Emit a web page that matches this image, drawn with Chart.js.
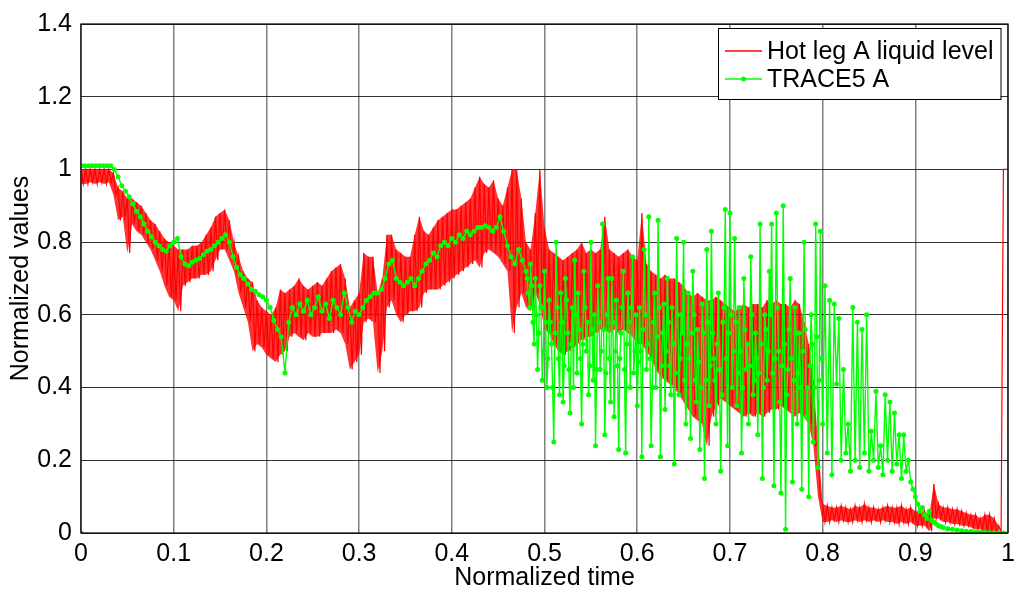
<!DOCTYPE html>
<html>
<head>
<meta charset="utf-8">
<script src="https://cdn.jsdelivr.net/npm/chart.js@4.4.0/dist/chart.umd.min.js"></script>
<style>
  html, body { margin: 0; padding: 0; background: #fff; }
  #wrap { width: 1021px; height: 596px; }
</style>
</head>
<body>
<div id="wrap"><canvas id="grafico" width="1021" height="596"></canvas></div>
<script>
// Nível de líquido na perna quente A (medido) x TRACE5 (calculado)
const rotuloVermelho = 'Hot leg A liquid level';
const rotuloVerde = 'TRACE5 A';

// vermelho: envelope lido a cada 0.005 de tempo (máximo / mínimo do ruído)
const vermelhoMax = [
  1.00, 1.00, 1.00, 1.00, 1.00, 1.00, 1.00, 0.99, 0.95, 0.94,
  0.92, 0.92, 0.91, 0.90, 0.88, 0.86, 0.85, 0.83, 0.81, 0.80,
  0.79, 0.78, 0.78, 0.78, 0.79, 0.79, 0.80, 0.82, 0.84, 0.87,
  0.88, 0.89, 0.86, 0.80, 0.76, 0.72, 0.70, 0.69, 0.64, 0.62,
  0.61, 0.60, 0.62, 0.67, 0.66, 0.67, 0.68, 0.70, 0.68, 0.67,
  0.68, 0.69, 0.68, 0.70, 0.72, 0.73, 0.74, 0.70, 0.62, 0.64,
  0.66, 0.77, 0.76, 0.76, 0.66, 0.70, 0.82, 0.82, 0.78, 0.77,
  0.76, 0.76, 0.82, 0.87, 0.83, 0.82, 0.84, 0.86, 0.87, 0.88,
  0.89, 0.89, 0.90, 0.91, 0.92, 0.95, 0.98, 0.96, 0.95, 0.97,
  0.92, 0.90, 0.95, 1.00, 1.00, 0.92, 0.80, 0.78, 0.88, 1.00,
  0.84, 0.78, 0.77, 0.76, 0.75, 0.76, 0.77, 0.78, 0.80, 0.77,
  0.78, 0.77, 0.78, 0.87, 0.78, 0.77, 0.76, 0.77, 0.78, 0.76,
  0.75, 0.88, 0.74, 0.72, 0.71, 0.70, 0.71, 0.70, 0.70, 0.69,
  0.68, 0.66, 0.65, 0.66, 0.65, 0.64, 0.64, 0.65, 0.64, 0.63,
  0.62, 0.61, 0.62, 0.63, 0.62, 0.63, 0.63, 0.62, 0.64, 0.63,
  0.64, 0.63, 0.63, 0.62, 0.64, 0.63, 0.58, 0.52, 0.42, 0.25,
  0.08, 0.075, 0.07, 0.07, 0.075, 0.07, 0.065, 0.075, 0.07, 0.08,
  0.07, 0.07, 0.065, 0.07, 0.075, 0.07, 0.07, 0.075, 0.065, 0.07,
  0.06, 0.06, 0.06, 0.05, 0.135, 0.08, 0.07, 0.07, 0.065, 0.065,
  0.06, 0.055, 0.05, 0.05, 0.04, 0.05, 0.05, 0.04, 0.02, 1.00,
  1.00
];
const vermelhoMin = [
  0.96, 0.96, 0.965, 0.96, 0.965, 0.96, 0.965, 0.93, 0.86, 0.87,
  0.77, 0.85, 0.83, 0.82, 0.80, 0.78, 0.75, 0.72, 0.68, 0.65,
  0.64, 0.61, 0.68, 0.69, 0.70, 0.70, 0.71, 0.71, 0.72, 0.75,
  0.78, 0.78, 0.75, 0.72, 0.66, 0.62, 0.58, 0.50, 0.52, 0.51,
  0.49, 0.48, 0.47, 0.49, 0.50, 0.54, 0.55, 0.54, 0.53, 0.55,
  0.54, 0.54, 0.55, 0.55, 0.55, 0.56, 0.55, 0.52, 0.45, 0.47,
  0.49, 0.58, 0.59, 0.58, 0.44, 0.50, 0.62, 0.64, 0.60, 0.58,
  0.60, 0.61, 0.61, 0.62, 0.66, 0.67, 0.67, 0.67, 0.68, 0.69,
  0.70, 0.71, 0.72, 0.73, 0.74, 0.75, 0.73, 0.77, 0.78, 0.77,
  0.76, 0.74, 0.72, 0.55, 0.62, 0.66, 0.62, 0.61, 0.66, 0.63,
  0.56, 0.55, 0.52, 0.50, 0.49, 0.50, 0.51, 0.52, 0.53, 0.54,
  0.54, 0.55, 0.56, 0.56, 0.55, 0.56, 0.55, 0.56, 0.55, 0.54,
  0.52, 0.52, 0.50, 0.48, 0.45, 0.43, 0.42, 0.41, 0.40, 0.38,
  0.36, 0.34, 0.32, 0.31, 0.30, 0.24, 0.32, 0.35, 0.37, 0.36,
  0.35, 0.34, 0.33, 0.32, 0.33, 0.32, 0.33, 0.32, 0.33, 0.34,
  0.34, 0.35, 0.34, 0.33, 0.32, 0.33, 0.32, 0.30, 0.24, 0.10,
  0.03, 0.03, 0.035, 0.03, 0.035, 0.03, 0.03, 0.035, 0.03, 0.035,
  0.03, 0.035, 0.03, 0.035, 0.03, 0.03, 0.025, 0.03, 0.025, 0.03,
  0.02, 0.02, 0.02, 0.005, 0.04, 0.04, 0.03, 0.03, 0.025, 0.025,
  0.02, 0.02, 0.015, 0.01, 0.01, 0.005, 0.005, 0.005, 0.0, 1.00,
  1.00
];

// verde: trecho suave (passo 0.004), oscilante denso (0.00125), oscilante (0.0025), cauda (0.005)
const verdeA = [
  1.01, 1.01, 1.01, 1.01, 1.01, 1.01, 1.01, 1.01, 1.01, 1.00,
  0.98, 0.955, 0.94, 0.925, 0.905, 0.885, 0.87, 0.85, 0.83, 0.815,
  0.80, 0.79, 0.78, 0.775, 0.79, 0.80, 0.81, 0.76, 0.74, 0.735,
  0.745, 0.75, 0.755, 0.765, 0.775, 0.78, 0.79, 0.80, 0.81, 0.82,
  0.80, 0.76, 0.73, 0.71, 0.70, 0.685, 0.67, 0.665, 0.655, 0.65,
  0.64, 0.62, 0.585, 0.56, 0.54, 0.44, 0.58, 0.62, 0.60, 0.63,
  0.61, 0.64, 0.60, 0.62, 0.65, 0.61, 0.63, 0.59, 0.64, 0.62,
  0.60, 0.66, 0.62, 0.58, 0.61, 0.60, 0.62, 0.64, 0.65, 0.66,
  0.66, 0.67, 0.70, 0.74, 0.75, 0.70, 0.69, 0.68, 0.69, 0.70,
  0.68, 0.70, 0.72, 0.74, 0.75, 0.77, 0.76, 0.79, 0.80, 0.79,
  0.81, 0.80, 0.82, 0.81, 0.83, 0.82, 0.83, 0.84, 0.84, 0.845,
  0.84, 0.83, 0.84, 0.87, 0.83, 0.79, 0.76, 0.74, 0.78, 0.75,
  0.72
];
const verdeB = [
  0.70, 0.66, 0.62, 0.74, 0.68, 0.58, 0.52, 0.70, 0.60, 0.45, 0.55, 0.68, 0.62, 0.42, 0.50, 0.72, 0.58, 0.40, 0.48, 0.64,
  0.58, 0.52, 0.40, 0.25, 0.55, 0.80, 0.62, 0.48, 0.38, 0.66, 0.58, 0.36, 0.46, 0.70, 0.64, 0.55, 0.45, 0.33, 0.52, 0.62,
  0.40, 0.75, 0.60, 0.44, 0.66, 0.56, 0.48, 0.30, 0.52, 0.72, 0.62, 0.50, 0.58, 0.38, 0.46, 0.80, 0.56, 0.42, 0.60, 0.24,
  0.45, 0.68, 0.58, 0.45, 0.50, 0.85, 0.56, 0.27, 0.44, 0.60, 0.70, 0.48, 0.36, 0.70, 0.58, 0.32, 0.50, 0.64, 0.46, 0.23,
  0.48, 0.55, 0.62, 0.72, 0.45, 0.22, 0.52, 0.66, 0.58, 0.40, 0.62, 0.76, 0.44, 0.50, 0.60, 0.35, 0.47, 0.62, 0.50, 0.21,
  0.56, 0.78, 0.60, 0.45, 0.52, 0.87, 0.48, 0.24, 0.40, 0.58, 0.66, 0.40, 0.54, 0.86, 0.62, 0.21, 0.46, 0.55, 0.63, 0.34,
  0.50, 0.70, 0.58, 0.46, 0.38, 0.62, 0.52, 0.19, 0.44, 0.81, 0.60, 0.38, 0.48, 0.60, 0.55, 0.80, 0.42, 0.30, 0.52, 0.66,
  0.48, 0.26, 0.55, 0.72, 0.60, 0.42, 0.36, 0.56, 0.47, 0.23, 0.40, 0.63, 0.55, 0.15, 0.42, 0.78, 0.58, 0.35, 0.46, 0.83,
  0.55, 0.48, 0.42, 0.30, 0.52, 0.66, 0.45, 0.17, 0.38, 0.58, 0.62, 0.89, 0.48, 0.24, 0.55, 0.88, 0.60, 0.40, 0.50, 0.81,
  0.58, 0.35, 0.44, 0.62, 0.50, 0.22, 0.40, 0.70, 0.56, 0.45, 0.52, 0.30, 0.46, 0.76, 0.60, 0.38, 0.42, 0.55, 0.48, 0.27,
  0.44, 0.85, 0.52, 0.15, 0.40, 0.60, 0.56, 0.42, 0.50, 0.72, 0.60, 0.85, 0.44, 0.13, 0.48, 0.88, 0.62, 0.50, 0.36, 0.11,
  0.46, 0.90, 0.52, 0.01, 0.38, 0.45, 0.56, 0.70, 0.48, 0.14, 0.42, 0.62, 0.55, 0.30, 0.44, 0.55, 0.40, 0.12, 0.50, 0.80,
  0.56, 0.32, 0.40, 0.10, 0.46, 0.60, 0.52, 0.25, 0.40, 0.85, 0.54, 0.18, 0.42, 0.83, 0.48, 0.30
];
const verdeC = [
  0.68, 0.22,
  0.64, 0.16, 0.63, 0.41, 0.59, 0.20, 0.45, 0.22, 0.30, 0.17,
  0.62, 0.20, 0.58, 0.18, 0.56, 0.22, 0.60, 0.17, 0.28, 0.20,
  0.39, 0.18, 0.24, 0.16, 0.38, 0.20, 0.36, 0.17, 0.33, 0.19,
  0.27, 0.15, 0.27, 0.17, 0.20, 0.14, 0.12, 0.10, 0.08, 0.06,
  0.07, 0.05, 0.04, 0.06, 0.035, 0.03, 0.025, 0.02, 0.018, 0.015
];
const verdeD = [0.012, 0.01, 0.008, 0.006, 0.005, 0.004, 0.003, 0.002, 0.002, 0.001, 0.001, 0.0, 0.0, 0.0];

const ticksX = [0, 0.1, 0.2, 0.3, 0.4, 0.5, 0.6, 0.7, 0.8, 0.9, 1];
const ticksY = [0, 0.2, 0.4, 0.6, 0.8, 1, 1.2, 1.4];

function tempos(inicio, passo, n) {
    return Array.from({ length: n }, (_, i) => +(inicio + i * passo).toFixed(5));
}

const tVermelho = tempos(0, 0.005, vermelhoMax.length);

// o ruído vermelho vira um zigue-zague entre máximo e mínimo
function montarVermelho() {
    const pontos = [];
    tVermelho.forEach((x, i) => {
        pontos.push({ x: x, y: vermelhoMax[i] });
        if (x + 0.0025 <= 1) pontos.push({ x: +(x + 0.0025).toFixed(4), y: vermelhoMin[i] });
    });
    return pontos;
}

function montarFaixa(valores) {
    return tVermelho.map((x, i) => ({ x: x, y: valores[i] }));
}

function montarVerde() {
    const pontos = [{ x: 0, y: 0 }];
    const partes = [
        [tempos(0, 0.004, verdeA.length), verdeA],
        [tempos(0.48125, 0.00125, verdeB.length), verdeB],
        [tempos(0.8025, 0.0025, verdeC.length), verdeC],
        [tempos(0.935, 0.005, verdeD.length), verdeD]
    ];
    partes.forEach(([t, v]) => t.forEach((x, i) => pontos.push({ x: x, y: v[i] })));
    return pontos;
}

const fonte = '"Liberation Sans", Arial, Helvetica, sans-serif';
const tamanho = 25;

const moldura = {
    id: 'moldura',
    afterDatasetsDraw(chart) {
        const { ctx, chartArea: a } = chart;
        ctx.save();
        ctx.strokeStyle = '#000';
        ctx.lineWidth = 1.2;
        ctx.strokeRect(a.left, a.top, a.right - a.left, a.bottom - a.top);
        ctx.restore();
    }
};

// caixa de legenda no estilo do MATLAB, com as cores de cada série
const amostras = [
    { texto: rotuloVermelho, cor: '#ff0000', largura: 1.3, ponto: 0 },
    { texto: rotuloVerde, cor: '#00ff00', largura: 1.4, ponto: 2.5 }
];

const legenda = {
    id: 'legendaCaixa',
    afterDraw(chart) {
        const { ctx, chartArea: a } = chart;
        ctx.save();
        ctx.font = tamanho + 'px ' + fonte;
        const larg = Math.max(...amostras.map(d => ctx.measureText(d.texto).width));
        const w = 49 + larg + 7;
        const h = 71;
        const x = Math.round(a.right - 8 - w);
        const y = a.top + 4;
        ctx.fillStyle = '#fff';
        ctx.fillRect(x, y, w, h);
        ctx.strokeStyle = '#000';
        ctx.lineWidth = 1;
        ctx.strokeRect(x + 0.5, y + 0.5, w, h);
        amostras.forEach((d, i) => {
            const cy = y + 23 + i * 28;
            ctx.strokeStyle = d.cor;
            ctx.lineWidth = d.largura;
            ctx.beginPath();
            ctx.moveTo(x + 7, cy);
            ctx.lineTo(x + 44, cy);
            ctx.stroke();
            if (d.ponto > 0) {
                ctx.fillStyle = d.cor;
                ctx.beginPath();
                ctx.arc(x + 25.5, cy, d.ponto, 0, Math.PI * 2);
                ctx.fill();
            }
            ctx.fillStyle = '#000';
            ctx.textBaseline = 'middle';
            ctx.fillText(d.texto, x + 49, cy + 1);
        });
        ctx.restore();
    }
};

const rotuloNum = v => String(Number(Number(v).toFixed(1)));

new Chart(document.getElementById('grafico').getContext('2d'), {
    type: 'scatter',
    data: {
        datasets: [{
            label: rotuloVermelho,
            data: montarVermelho(),
            showLine: true,
            borderColor: '#ff0000',
            borderWidth: 1.2,
            pointRadius: 0,
            order: 1
        }, {
            label: rotuloVerde,
            data: montarVerde(),
            showLine: true,
            borderColor: '#00ff00',
            borderWidth: 1.4,
            pointRadius: 2.5,
            pointBorderWidth: 0,
            pointBackgroundColor: '#00ff00',
            order: 0
        }, {
            label: 'faixa min',
            data: montarFaixa(vermelhoMin),
            showLine: true,
            borderWidth: 0,
            borderColor: 'rgba(0,0,0,0)',
            pointRadius: 0,
            order: 2
        }, {
            label: 'faixa max',
            data: montarFaixa(vermelhoMax),
            showLine: true,
            borderWidth: 0,
            borderColor: 'rgba(0,0,0,0)',
            backgroundColor: 'rgba(255,0,0,0.8)',
            fill: { target: 2 },
            pointRadius: 0,
            order: 2
        }]
    },
    options: {
        responsive: false,
        animation: false,
        layout: { padding: { top: 18, right: 6, left: 0, bottom: 0 } },
        plugins: { legend: { display: false }, tooltip: { enabled: false } },
        scales: {
            x: {
                type: 'linear',
                min: 0,
                max: 1,
                afterFit: s => { s.height = 63; },
                afterBuildTicks: s => { s.ticks = ticksX.map(v => ({ value: v })); },
                ticks: { color: '#000', font: { family: fonte, size: tamanho }, padding: 6, maxRotation: 0, callback: rotuloNum },
                grid: { color: 'rgba(0,0,0,0.5)', lineWidth: 1.5, drawTicks: false },
                border: { display: false },
                title: { display: true, text: 'Normalized time', color: '#000', font: { family: fonte, size: tamanho }, padding: { top: 0, bottom: 3 } }
            },
            y: {
                min: 0,
                max: 1.4,
                afterFit: s => { s.width = 81; },
                afterBuildTicks: s => { s.ticks = ticksY.map(v => ({ value: v })); },
                ticks: { color: '#000', font: { family: fonte, size: tamanho }, padding: 9, callback: rotuloNum },
                grid: { color: 'rgba(0,0,0,0.8)', lineWidth: 1, drawTicks: false },
                border: { display: false },
                title: { display: true, text: 'Normalized values', color: '#000', font: { family: fonte, size: tamanho }, padding: { top: 6, bottom: 0 } }
            }
        }
    },
    plugins: [moldura, legenda]
});
</script>
</body>
</html>
